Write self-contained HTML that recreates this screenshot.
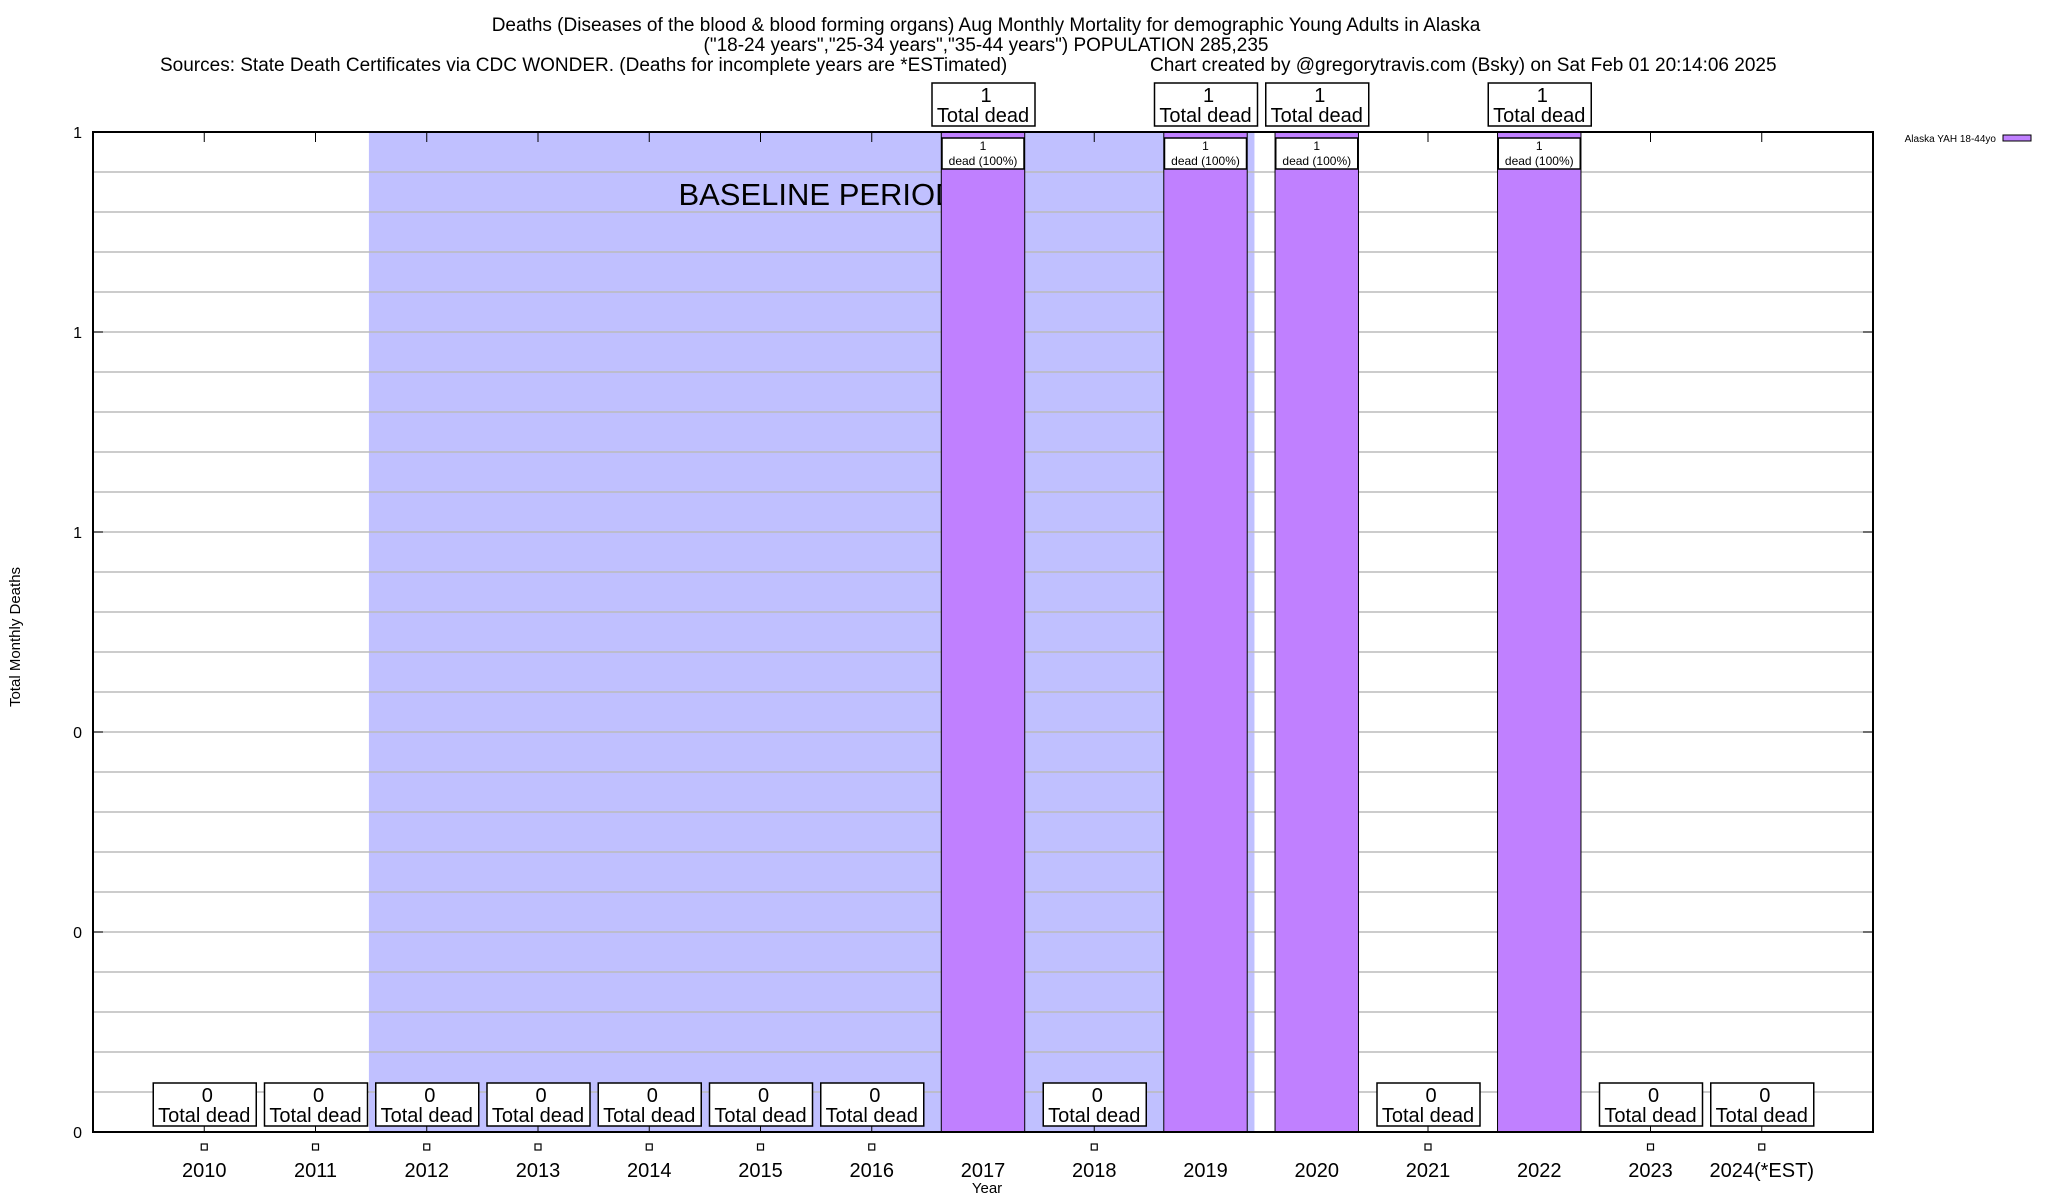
<!DOCTYPE html>
<html><head><meta charset="utf-8"><style>
body{margin:0;background:#fff;}
svg{display:block;font-family:"Liberation Sans",sans-serif;}
</style></head><body>
<svg id="c" width="2048" height="1200" viewBox="0 0 2048 1200">
<g font-size="19" text-anchor="middle">
<text x="986" y="31">Deaths (Diseases of the blood &amp; blood forming organs) Aug Monthly Mortality for demographic Young Adults in Alaska</text>
<text x="986" y="51">("18-24 years","25-34 years","35-44 years") POPULATION 285,235</text>
<text x="160" y="71" text-anchor="start">Sources: State Death Certificates via CDC WONDER. (Deaths for incomplete years are *ESTimated)</text>
<text x="1150" y="71" text-anchor="start">Chart created by @gregorytravis.com (Bsky) on Sat Feb 01 20:14:06 2025</text>
</g>
<text x="20" y="637" font-size="15" text-anchor="middle" transform="rotate(-90 20 637)">Total Monthly Deaths</text>
<text x="987" y="1200" font-size="15" text-anchor="middle" dy="-7">Year</text>
<g>
<text x="1996" y="142" font-size="10" text-anchor="end">Alaska YAH 18-44yo</text>
<rect x="2003" y="135" width="28" height="6" fill="#c080ff" stroke="#000" stroke-width="1"/>
</g>
<g id="plot"></g>
</svg>
<script>
const categories=["2010","2011","2012","2013","2014","2015","2016","2017","2018","2019","2020","2021","2022","2023","2024(*EST)"];
const deaths=[0,0,0,0,0,0,0,1,0,1,1,0,1,0,0];
const yTickValues=[0,0.2,0.4,0.6,0.8,1];
const yTickLabels=["0","0","0","1","1","1"];
const baselineStart=1.48, baselineEnd=9.44;

const L=93,R=1873,T=132,B=1132;
const slot=(R-L)/16;
const xs=i=>L+(i+1)*slot;
const ys=v=>B-(B-T)*v;
const NS="http://www.w3.org/2000/svg";
const g=document.getElementById('plot');
function mk(tag,attrs,parent){const e=document.createElementNS(NS,tag);for(const k in attrs)e.setAttribute(k,attrs[k]);(parent||g).appendChild(e);return e;}

// baseline shade
const sh=mk('rect',{x:xs(baselineStart),y:T,width:xs(baselineEnd)-xs(baselineStart),height:B-T,fill:'#c0c0ff'});


// grid
for(let k=1;k<25;k++){const v=k*0.04;const l=mk('line',{x1:L,x2:R,y1:ys(v),y2:ys(v),stroke:'#bbb','stroke-width':1.5});

}
const bt=mk('text',{x:818,y:205,'font-size':31,'text-anchor':'middle'});bt.textContent='BASELINE PERIOD';


// ticks
categories.forEach((c,i)=>{
 mk('line',{x1:xs(i),x2:xs(i),y1:T,y2:T+10,stroke:'#000'});
 mk('line',{x1:xs(i),x2:xs(i),y1:B,y2:B-10,stroke:'#000'});
});
yTickValues.forEach((v,i)=>{
 mk('line',{x1:L,x2:L+10,y1:ys(v),y2:ys(v),stroke:'#000'});
 mk('line',{x1:R,x2:R-10,y1:ys(v),y2:ys(v),stroke:'#000'});
 const t=mk('text',{x:82,y:ys(v)+6,'font-size':16,'text-anchor':'end'});t.textContent=yTickLabels[i];
 
 
});
// bars & labels
const bw=slot*0.75;
categories.forEach((c,i)=>{
 const v=deaths[i],cx=xs(i);
 if(v>0){
  const b=mk('rect',{x:cx-bw/2,y:ys(v),width:bw,height:B-ys(v),fill:'#c080ff',stroke:'#000','stroke-width':1});
  
  
  const ib=mk('rect',{x:cx-41,y:ys(v)+6,width:82,height:31,fill:'#fff',stroke:'#000','stroke-width':1.5});
  
  
  const t1=mk('text',{x:cx,y:ys(v)+18,'font-size':12,'text-anchor':'middle'});t1.textContent=v;
  
  
  const t2=mk('text',{x:cx,y:ys(v)+33,'font-size':12,'text-anchor':'middle'});t2.textContent='dead (100%)';
  
  
 } else {
  const m=mk('rect',{x:cx-3,y:1144,width:6,height:6,fill:'#fff',stroke:'#000','stroke-width':1.2});
  
  
 }
 const top=ys(v)-49;
 const box=mk('rect',{x:cx-51,y:top,width:103,height:43,fill:'#fff',stroke:'#000','stroke-width':1.5});
 
 
 const a=mk('text',{x:cx+3,y:top+19,'font-size':20,'text-anchor':'middle'});a.textContent=v;
 
 
 const b2=mk('text',{x:cx,y:top+39,'font-size':20,'text-anchor':'middle'});b2.textContent='Total dead';
 
 
 const xl=mk('text',{x:cx,y:1177,'font-size':20,'text-anchor':'middle'});xl.textContent=c;
 
 
});
const fr=mk('rect',{x:L,y:T,width:R-L,height:B-T,fill:'none',stroke:'#000','stroke-width':2});


</script>
</body></html>
